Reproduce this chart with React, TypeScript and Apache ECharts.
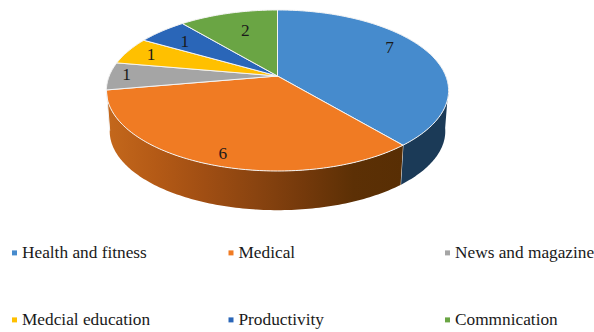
import React, { useEffect, useRef } from "react";
import * as echarts from "echarts";

const categories = [
  "Health and fitness",
  "Medical",
  "News and magazine",
  "Medcial education",
  "Productivity",
  "Commnication",
];
const appCounts = [7, 6, 1, 1, 1, 2];
const sliceColors = ["#468BCD", "#F07B23", "#A5A5A5", "#FFC000", "#2A66B8", "#6AA544"];

// Side wall shading, one ramp per slice that reaches the front of the disc.
const wallRamps: (string[] | null)[] = [
  ["#1B3A57", "#1B3A57"],
  ["#C4681C", "#B45A16", "#A04E13", "#8A4410", "#74390B", "#5C3005", "#582E04"],
  null,
  null,
  null,
  null,
];

// Where each count sits: bearing in degrees clockwise from twelve o'clock, and share of the radius.
const labelBearings = [61.5, 198, 271, 290, 309, 342];
const labelRadii = [0.81, 0.89, 0.9, 0.84, 0.77, 0.69];

const legendLeft = [12, 228.5, 445];
const legendTop = [244.4, 311.4];

// Perspective model of the tilted disc.
const CX = 277.5;
const CY = 76;
const RX = 168.3;
const RY = 77.9;
const TILT = 0.18;
const SINK = 0.0193; // shrink of the lower rim toward the vanishing point
const VANISH_Y = 2200;

const total = appCounts.reduce((a, b) => a + b, 0);

function discPoint(deg: number, r: number): [number, number] {
  const t = (deg * Math.PI) / 180;
  const u = r * Math.sin(t);
  const v = -r * Math.cos(t);
  const d = 1 - TILT * v;
  return [CX + (RX * u) / d, CY + (RY * v) / d];
}

function lower(p: [number, number]): [number, number] {
  return [p[0] + SINK * (CX - p[0]), p[1] + SINK * (VANISH_Y - p[1])];
}

function arc(from: number, to: number): [number, number][] {
  const pts: [number, number][] = [];
  const n = Math.max(2, Math.ceil(to - from));
  for (let i = 0; i <= n; i++) pts.push(discPoint(from + ((to - from) * i) / n, 1));
  return pts;
}

function makeRenderItem(index: number) {
  return (_params: any, api: any) => {
    const value = api.value(0);
    const before = appCounts.slice(0, index).reduce((a, b) => a + b, 0);
    const start = (before / total) * 360;
    const end = start + (value / total) * 360;
    const children: any[] = [];

    const ramp = wallRamps[index];
    if (ramp) {
      const from = Math.max(start, 98);
      const to = Math.min(end, 262);
      const top = arc(from, to);
      const bottom = top.map(lower).reverse();
      children.push({
        type: "polygon",
        shape: { points: [...top, ...bottom] },
        style: {
          fill: new echarts.graphic.LinearGradient(
            0,
            0,
            1,
            0,
            ramp.map((color, i) => ({ offset: i / (ramp.length - 1), color }))
          ),
        },
        silent: true,
      });
    }

    children.push({
      type: "polygon",
      shape: { points: [[CX, CY], ...arc(start, end)] },
      style: { fill: sliceColors[index], stroke: "#F4F4F4", lineWidth: 1, lineJoin: "round" },
      silent: true,
    });

    if (ramp && end < 262) {
      const a = discPoint(end, 1);
      const b = lower(a);
      children.push({
        type: "line",
        shape: { x1: a[0], y1: a[1], x2: b[0], y2: b[1] },
        style: { stroke: "#F4F4F4", lineWidth: 1 },
        silent: true,
      });
    }

    const [lx, ly] = discPoint(labelBearings[index], labelRadii[index]);
    children.push({
      type: "text",
      x: lx,
      y: ly,
      z2: 10,
      style: {
        text: String(value),
        fill: "#1A1A1A",
        font: '17.3px "Liberation Serif"',
        align: "center",
        verticalAlign: "middle",
      },
      silent: true,
    });

    return { type: "group", children };
  };
}

export default function App() {
  const ref = useRef<HTMLDivElement>(null);

  useEffect(() => {
    if (!ref.current) return;
    const chart = echarts.init(ref.current, undefined, { renderer: "svg" });
    chart.setOption({
      animation: false,
      backgroundColor: "#FFFFFF",
      legend: categories.map((name, i) => ({
        data: [{ name, itemStyle: { color: sliceColors[i] } }],
        left: legendLeft[i % 3],
        top: legendTop[Math.floor(i / 3)],
        padding: 0,
        icon: "rect",
        itemWidth: 5,
        itemHeight: 5,
        itemGap: 5,
        selectedMode: false,
        textStyle: { fontFamily: "Liberation Serif", fontSize: 17.3, color: "#1A1A1A" },
      })),
      series: categories.map((name, i) => ({
        type: "custom",
        name,
        coordinateSystem: "none",
        silent: true,
        itemStyle: { color: sliceColors[i] },
        data: [[appCounts[i]]],
        renderItem: makeRenderItem(i),
      })),
    });
    return () => chart.dispose();
  }, []);

  return <div ref={ref} style={{ position: "absolute", left: 0, top: 0, width: 594, height: 332 }} />;
}
